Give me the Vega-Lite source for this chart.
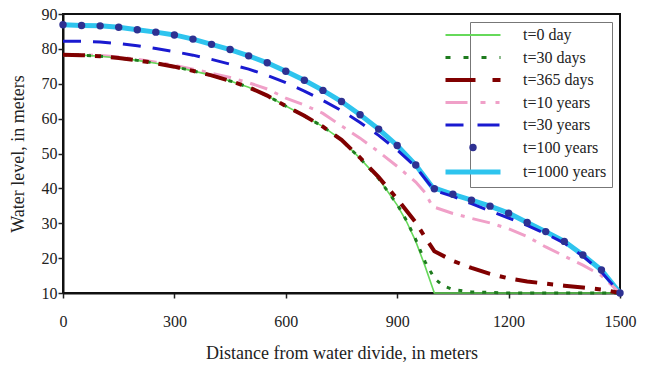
{
  "$schema": "https://vega.github.io/schema/vega-lite/v6.json",
  "width": 557,
  "height": 279,
  "autosize": {"type": "none"},
  "padding": {"left": 63, "top": 14, "right": 26, "bottom": 73},
  "background": "white",
  "config": {
    "view": {"stroke": "#111", "strokeWidth": 2},
    "font": "Liberation Serif",
    "axis": {
      "labelFont": "Liberation Serif", "titleFont": "Liberation Serif",
      "labelColor": "#222", "titleColor": "#222", "labelFontSize": 16, "titleFontSize": 18,
      "titleFontWeight": "normal", "domainColor": "#111", "domainWidth": 2,
      "tickColor": "#222", "tickWidth": 1.5, "tickSize": 5, "grid": false, "labelFlush": false
    },
    "legend": {"labelFont": "Liberation Serif", "labelFontSize": 16, "labelColor": "#222"}
  },
  "data": {"values": [
    {"s":"t=1000 years","x":0,"y":86.9},{"s":"t=1000 years","x":50,"y":86.7},{"s":"t=1000 years","x":100,"y":86.6},{"s":"t=1000 years","x":150,"y":86.2},{"s":"t=1000 years","x":200,"y":85.5},{"s":"t=1000 years","x":250,"y":84.8},{"s":"t=1000 years","x":300,"y":84.0},{"s":"t=1000 years","x":350,"y":82.8},{"s":"t=1000 years","x":400,"y":81.3},{"s":"t=1000 years","x":450,"y":79.8},{"s":"t=1000 years","x":500,"y":78.0},{"s":"t=1000 years","x":550,"y":76.0},{"s":"t=1000 years","x":600,"y":73.6},{"s":"t=1000 years","x":650,"y":71.0},{"s":"t=1000 years","x":700,"y":68.1},{"s":"t=1000 years","x":750,"y":64.9},{"s":"t=1000 years","x":800,"y":61.1},{"s":"t=1000 years","x":850,"y":57.0},{"s":"t=1000 years","x":900,"y":52.3},{"s":"t=1000 years","x":950,"y":46.7},{"s":"t=1000 years","x":995,"y":40.3},{"s":"t=1000 years","x":1050,"y":38.3},{"s":"t=1000 years","x":1100,"y":36.6},{"s":"t=1000 years","x":1150,"y":34.9},{"s":"t=1000 years","x":1200,"y":32.9},{"s":"t=1000 years","x":1250,"y":30.2},{"s":"t=1000 years","x":1300,"y":27.6},{"s":"t=1000 years","x":1350,"y":24.8},{"s":"t=1000 years","x":1400,"y":20.9},{"s":"t=1000 years","x":1450,"y":16.6},{"s":"t=1000 years","x":1500,"y":10.0},

    {"s":"t=100 years","x":0,"y":86.9},{"s":"t=100 years","x":50,"y":86.7},{"s":"t=100 years","x":100,"y":86.6},{"s":"t=100 years","x":150,"y":86.2},{"s":"t=100 years","x":200,"y":85.5},{"s":"t=100 years","x":250,"y":84.8},{"s":"t=100 years","x":300,"y":84.0},{"s":"t=100 years","x":350,"y":82.8},{"s":"t=100 years","x":400,"y":81.3},{"s":"t=100 years","x":450,"y":79.8},{"s":"t=100 years","x":500,"y":78.0},{"s":"t=100 years","x":550,"y":76.0},{"s":"t=100 years","x":600,"y":73.6},{"s":"t=100 years","x":650,"y":71.0},{"s":"t=100 years","x":700,"y":68.1},{"s":"t=100 years","x":750,"y":64.9},{"s":"t=100 years","x":800,"y":61.1},{"s":"t=100 years","x":850,"y":57.0},{"s":"t=100 years","x":900,"y":52.3},{"s":"t=100 years","x":950,"y":46.7},{"s":"t=100 years","x":1000,"y":39.9},{"s":"t=100 years","x":1050,"y":38.3},{"s":"t=100 years","x":1100,"y":36.6},{"s":"t=100 years","x":1150,"y":34.9},{"s":"t=100 years","x":1200,"y":32.9},{"s":"t=100 years","x":1250,"y":30.2},{"s":"t=100 years","x":1300,"y":27.6},{"s":"t=100 years","x":1350,"y":24.8},{"s":"t=100 years","x":1400,"y":20.9},{"s":"t=100 years","x":1450,"y":16.6},{"s":"t=100 years","x":1500,"y":10.0},

    {"s":"t=30 years","x":0,"y":82.2},{"s":"t=30 years","x":50,"y":82.2},{"s":"t=30 years","x":100,"y":82.0},{"s":"t=30 years","x":150,"y":81.5},{"s":"t=30 years","x":200,"y":80.9},{"s":"t=30 years","x":250,"y":80.1},{"s":"t=30 years","x":300,"y":79.2},{"s":"t=30 years","x":350,"y":78.2},{"s":"t=30 years","x":400,"y":77.0},{"s":"t=30 years","x":450,"y":75.6},{"s":"t=30 years","x":500,"y":74.2},{"s":"t=30 years","x":550,"y":72.4},{"s":"t=30 years","x":600,"y":70.3},{"s":"t=30 years","x":650,"y":67.9},{"s":"t=30 years","x":700,"y":65.2},{"s":"t=30 years","x":750,"y":62.3},{"s":"t=30 years","x":800,"y":58.9},{"s":"t=30 years","x":850,"y":55.2},{"s":"t=30 years","x":900,"y":51.0},{"s":"t=30 years","x":950,"y":46.2},{"s":"t=30 years","x":1000,"y":39.4},{"s":"t=30 years","x":1050,"y":37.7},{"s":"t=30 years","x":1100,"y":35.6},{"s":"t=30 years","x":1150,"y":33.5},{"s":"t=30 years","x":1200,"y":31.5},{"s":"t=30 years","x":1250,"y":29.4},{"s":"t=30 years","x":1300,"y":27.0},{"s":"t=30 years","x":1350,"y":24.3},{"s":"t=30 years","x":1400,"y":20.6},{"s":"t=30 years","x":1450,"y":16.0},{"s":"t=30 years","x":1500,"y":10.0},

    {"s":"t=10 years","x":0,"y":78.3},{"s":"t=10 years","x":50,"y":78.3},{"s":"t=10 years","x":100,"y":78.1},{"s":"t=10 years","x":150,"y":77.7},{"s":"t=10 years","x":200,"y":77.0},{"s":"t=10 years","x":250,"y":76.2},{"s":"t=10 years","x":300,"y":75.3},{"s":"t=10 years","x":350,"y":74.2},{"s":"t=10 years","x":400,"y":73.0},{"s":"t=10 years","x":450,"y":71.8},{"s":"t=10 years","x":500,"y":70.3},{"s":"t=10 years","x":550,"y":68.5},{"s":"t=10 years","x":600,"y":65.9},{"s":"t=10 years","x":650,"y":63.9},{"s":"t=10 years","x":700,"y":61.5},{"s":"t=10 years","x":750,"y":57.9},{"s":"t=10 years","x":800,"y":54.4},{"s":"t=10 years","x":850,"y":50.5},{"s":"t=10 years","x":900,"y":46.3},{"s":"t=10 years","x":950,"y":41.8},{"s":"t=10 years","x":975,"y":38.8},{"s":"t=10 years","x":995,"y":34.8},{"s":"t=10 years","x":1050,"y":32.8},{"s":"t=10 years","x":1100,"y":31.4},{"s":"t=10 years","x":1150,"y":30.1},{"s":"t=10 years","x":1200,"y":28.4},{"s":"t=10 years","x":1250,"y":26.2},{"s":"t=10 years","x":1300,"y":23.2},{"s":"t=10 years","x":1350,"y":20.6},{"s":"t=10 years","x":1400,"y":18.0},{"s":"t=10 years","x":1450,"y":15.0},{"s":"t=10 years","x":1500,"y":10.0},

    {"s":"t=0 day","x":0,"y":78.3},{"s":"t=0 day","x":50,"y":78.2},{"s":"t=0 day","x":100,"y":77.9},{"s":"t=0 day","x":150,"y":77.4},{"s":"t=0 day","x":200,"y":76.7},{"s":"t=0 day","x":250,"y":75.9},{"s":"t=0 day","x":300,"y":74.9},{"s":"t=0 day","x":350,"y":73.7},{"s":"t=0 day","x":400,"y":72.4},{"s":"t=0 day","x":450,"y":70.8},{"s":"t=0 day","x":500,"y":69.0},{"s":"t=0 day","x":550,"y":66.6},{"s":"t=0 day","x":600,"y":63.6},{"s":"t=0 day","x":650,"y":60.8},{"s":"t=0 day","x":700,"y":57.7},{"s":"t=0 day","x":750,"y":53.9},{"s":"t=0 day","x":800,"y":48.6},{"s":"t=0 day","x":850,"y":42.8},{"s":"t=0 day","x":900,"y":35.2},{"s":"t=0 day","x":925,"y":30.5},{"s":"t=0 day","x":950,"y":24.8},{"s":"t=0 day","x":975,"y":17.7},{"s":"t=0 day","x":1000,"y":10.0},{"s":"t=0 day","x":1250,"y":10.0},{"s":"t=0 day","x":1500,"y":10.0},

    {"s":"t=30 days","x":0,"y":78.3},{"s":"t=30 days","x":50,"y":78.2},{"s":"t=30 days","x":100,"y":77.9},{"s":"t=30 days","x":150,"y":77.4},{"s":"t=30 days","x":200,"y":76.7},{"s":"t=30 days","x":250,"y":75.9},{"s":"t=30 days","x":300,"y":74.9},{"s":"t=30 days","x":350,"y":73.7},{"s":"t=30 days","x":400,"y":72.4},{"s":"t=30 days","x":450,"y":70.8},{"s":"t=30 days","x":500,"y":69.0},{"s":"t=30 days","x":550,"y":66.6},{"s":"t=30 days","x":600,"y":63.6},{"s":"t=30 days","x":650,"y":60.8},{"s":"t=30 days","x":700,"y":57.7},{"s":"t=30 days","x":750,"y":53.9},{"s":"t=30 days","x":800,"y":48.6},{"s":"t=30 days","x":850,"y":42.8},{"s":"t=30 days","x":900,"y":35.4},{"s":"t=30 days","x":925,"y":30.8},{"s":"t=30 days","x":950,"y":25.3},{"s":"t=30 days","x":975,"y":19.0},{"s":"t=30 days","x":1000,"y":14.2},{"s":"t=30 days","x":1025,"y":12.0},{"s":"t=30 days","x":1050,"y":11.0},{"s":"t=30 days","x":1100,"y":10.3},{"s":"t=30 days","x":1200,"y":10.0},{"s":"t=30 days","x":1500,"y":10.0},

    {"s":"t=365 days","x":0,"y":78.3},{"s":"t=365 days","x":50,"y":78.2},{"s":"t=365 days","x":100,"y":77.9},{"s":"t=365 days","x":150,"y":77.4},{"s":"t=365 days","x":200,"y":76.7},{"s":"t=365 days","x":250,"y":75.9},{"s":"t=365 days","x":300,"y":74.9},{"s":"t=365 days","x":350,"y":73.7},{"s":"t=365 days","x":400,"y":72.4},{"s":"t=365 days","x":450,"y":70.8},{"s":"t=365 days","x":500,"y":69.0},{"s":"t=365 days","x":550,"y":66.6},{"s":"t=365 days","x":600,"y":63.6},{"s":"t=365 days","x":650,"y":60.8},{"s":"t=365 days","x":700,"y":57.7},{"s":"t=365 days","x":750,"y":53.9},{"s":"t=365 days","x":800,"y":48.8},{"s":"t=365 days","x":850,"y":43.2},{"s":"t=365 days","x":900,"y":37.0},{"s":"t=365 days","x":950,"y":30.2},{"s":"t=365 days","x":975,"y":26.0},{"s":"t=365 days","x":1000,"y":22.0},{"s":"t=365 days","x":1050,"y":19.2},{"s":"t=365 days","x":1100,"y":17.2},{"s":"t=365 days","x":1150,"y":15.5},{"s":"t=365 days","x":1200,"y":14.2},{"s":"t=365 days","x":1250,"y":13.3},{"s":"t=365 days","x":1300,"y":12.7},{"s":"t=365 days","x":1350,"y":12.1},{"s":"t=365 days","x":1400,"y":11.6},{"s":"t=365 days","x":1450,"y":11.0},{"s":"t=365 days","x":1500,"y":10.0}
  ]},
  "encoding": {
    "x": {"field": "x", "type": "quantitative",
      "scale": {"domain": [0, 1500], "nice": false},
      "axis": {"values": [0, 300, 600, 900, 1200, 1500], "format": "d", "labelPadding": 15, "titlePadding": 15,
        "title": "Distance from water divide, in meters"}},
    "y": {"field": "y", "type": "quantitative",
      "scale": {"domain": [10, 90], "nice": false},
      "axis": {"values": [10, 20, 30, 40, 50, 60, 70, 80, 90], "labelPadding": 1, "titlePadding": 14,
        "title": "Water level, in meters"}},
    "color": {"field": "s", "type": "nominal", "title": null,
      "scale": {
        "domain": ["t=0 day", "t=30 days", "t=365 days", "t=10 years", "t=30 years", "t=100 years", "t=1000 years"],
        "range": ["#66d95a", "#1e7b1e", "#800000", "#f0a0c8", "#1a1ad0", "#2e3192", "#2ec4ee"]},
      "legend": {
        "orient": "top-right", "offset": 8, "padding": 5, "rowPadding": 6.5,
        "strokeColor": "#777", "fillColor": "white", "symbolSize": 3025, "symbolType": "stroke",
        "symbolOffset": -10, "labelOffset": 42, "labelLimit": 200,
        "encode": {"symbols": {"update": {
          "shape": {"signal": "datum.value === 't=100 years' ? 'circle' : 'stroke'"},
          "size": {"signal": "datum.value === 't=100 years' ? 55 : 3025"},
          "fill": {"signal": "datum.value === 't=100 years' ? '#2e3192' : 'transparent'"},
          "opacity": {"value": 1},
          "strokeWidth": {"signal": "datum.value === 't=0 day' ? 2 : datum.value === 't=1000 years' ? 5 : datum.value === 't=365 days' ? 4 : datum.value === 't=100 years' ? 0 : 3"},
          "strokeDash": {"signal": "datum.value === 't=30 days' ? [5,13] : datum.value === 't=365 days' ? [30,17,8,20] : datum.value === 't=10 years' ? [22,13,5,10,4,20] : datum.value === 't=30 years' ? [18,14,22,20] : [1,0]"}
        }}}
      }}
  },
  "layer": [
    {"transform": [{"filter": "datum.s === 't=1000 years'"}], "mark": {"type": "line", "strokeWidth": 5}},
    {"transform": [{"filter": "datum.s === 't=10 years'"}], "mark": {"type": "line", "strokeWidth": 3, "strokeDash": [18, 8, 4, 8]}},
    {"transform": [{"filter": "datum.s === 't=30 years'"}], "mark": {"type": "line", "strokeWidth": 3, "strokeDash": [18, 12]}},
    {"transform": [{"filter": "datum.s === 't=0 day'"}], "mark": {"type": "line", "strokeWidth": 1.6}},
    {"transform": [{"filter": "datum.s === 't=30 days'"}], "mark": {"type": "line", "strokeWidth": 3, "strokeDash": [4, 8]}},
    {"transform": [{"filter": "datum.s === 't=365 days'"}], "mark": {"type": "line", "strokeWidth": 4, "strokeDash": [22, 10, 6, 10]}},
    {"transform": [{"filter": "datum.s === 't=100 years'"}], "mark": {"type": "point", "filled": true, "size": 55, "opacity": 1}}
  ]
}
